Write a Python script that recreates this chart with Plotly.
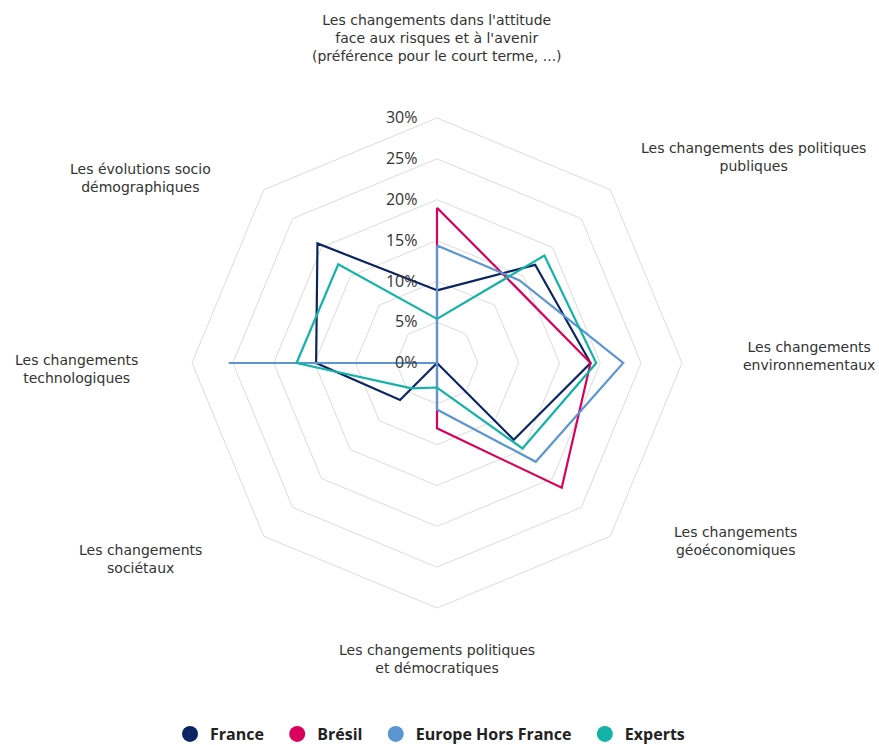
import plotly.graph_objects as go

categories = [
    "Les changements dans l'attitude<br>face aux risques et à l'avenir<br>(préférence pour le court terme, ...)",
    "Les changements des politiques<br>publiques",
    "Les changements<br>environnementaux",
    "Les changements<br>géoéconomiques",
    "Les changements politiques<br>et démocratiques",
    "Les changements<br>sociétaux",
    "Les changements<br>technologiques",
    "Les évolutions socio<br>démographiques",
]
france = [8.9, 17.0, 18.8, 13.3, 0.0, 6.4, 14.8, 20.7]
bresil = [19.0, 13.4, 18.8, 21.6, 8.0, 0.0, 19.0, 0.0]
europe = [14.4, 14.3, 22.8, 17.1, 5.7, 0.0, 25.5, 0.0]
experts = [5.4, 18.6, 19.5, 14.8, 3.0, 4.4, 17.2, 17.1]
series_names = ["France", "Brésil", "Europe Hors France", "Experts"]
series_values = [france, bresil, europe, experts]
colors = ["#0b2462", "#d9005b", "#5b96d3", "#12b3a6"]
radial_ticks = [0, 5, 10, 15, 20, 25, 30]
radial_ticktext = [f"{v}%" + "\u00a0" * 4 for v in radial_ticks]

theta_ids = [f"c{i}" for i in range(len(categories))]

fig = go.Figure()
for name, vals, col in zip(series_names, series_values, colors):
    fig.add_trace(go.Scatterpolar(
        r=vals + [vals[0]], theta=theta_ids + [theta_ids[0]],
        mode="lines", line=dict(color=col, width=2.2),
        name=name, showlegend=False, hoverinfo="skip",
    ))
for i, (name, col) in enumerate(zip(series_names, colors)):
    pad = "\u00a0\u00a0" if i < len(series_names) - 1 else ""
    fig.add_trace(go.Scatterpolar(
        r=[None], theta=[theta_ids[0]], mode="markers",
        marker=dict(color=col, size=18, symbol="circle"),
        name=name + pad, showlegend=True,
    ))

cx, cy, R = 437, 363, 245
W, H = 879, 745
grid = "#dcdcdc"
FONT = "'Open Sans', sans-serif"
LABEL_FONT = "'DejaVu Sans', sans-serif"
fig.update_layout(
    width=W, height=H,
    margin=dict(l=0, r=0, t=0, b=0, autoexpand=False),
    paper_bgcolor="white", plot_bgcolor="white",
    font=dict(family=FONT, color="#333333", size=14),
    polar=dict(
        domain=dict(x=[(cx - R) / W, (cx + R) / W],
                    y=[(H - cy - R) / H, (H - cy + R) / H]),
        gridshape="linear",
        bgcolor="white",
        radialaxis=dict(
            range=[0, 30], tickvals=radial_ticks, ticktext=radial_ticktext,
            tickmode="array",
            angle=90, tickangle=90, side="counterclockwise",
            showline=False, ticks="", gridcolor=grid, gridwidth=1,
            tickfont=dict(size=16, color="#333333"),
        ),
        angularaxis=dict(
            categoryarray=theta_ids, categoryorder="array",
            direction="clockwise", rotation=90,
            showgrid=False, showticklabels=False, ticks="",
            showline=True, linecolor=grid, linewidth=1,
        ),
    ),
    legend=dict(
        orientation="h", x=0.4892, xanchor="center",
        y=(H - 734) / H, yanchor="middle",
        font=dict(size=16, color="#222222", family=FONT, weight="bold"),
        itemsizing="trace", traceorder="normal", itemwidth=30,
    ),
)

label_pos = [
    (437, 38), (753, 157), (809, 356), (735, 541),
    (437, 659), (140, 559), (76, 369), (140, 178),
]
for lab, (x, y) in zip(categories, label_pos):
    fig.add_annotation(
        x=x / W, y=1 - y / H, xref="paper", yref="paper",
        text=lab, showarrow=False, xanchor="center", yanchor="middle",
        align="center", font=dict(size=14, color="#333333", family=LABEL_FONT),
    )

fig.write_html("out.html", config={"displayModeBar": False},
               post_script="document.body.style.margin='0';")
